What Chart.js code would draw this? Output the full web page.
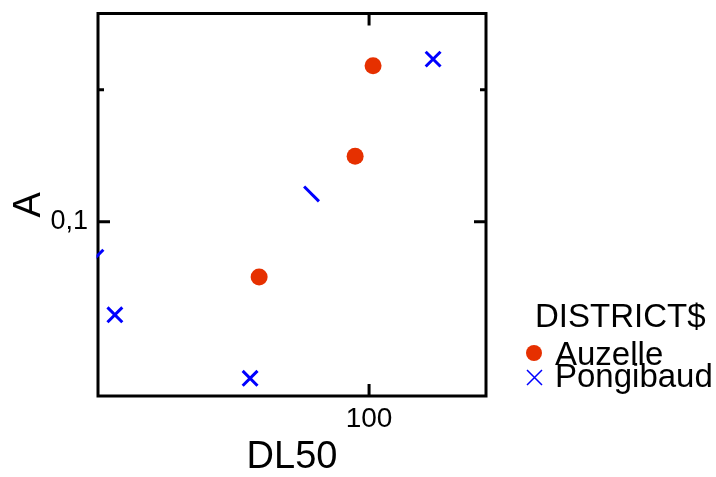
<!DOCTYPE html>
<html>
<head>
<meta charset="utf-8">
<script src="https://cdn.jsdelivr.net/npm/chart.js@4/dist/chart.umd.min.js"></script>
<style>
  body { margin: 0; background: #fff; }
  #wrap { width: 716px; height: 477px; }
</style>
</head>
<body>
<div id="wrap"><canvas id="dataChart"></canvas></div>
<script>
// data (log-log scatter)
const seriesNames = ['Auzelle', 'Pongibaud'];
const auzelleX = [56.4, 93.0, 102.1];
const auzelleY = [0.0748, 0.141, 0.227];
const pongibaudX = [24.1, 26.6, 53.8, 74.1, 139.6];
const pongibaudY = [0.083, 0.0613, 0.0439, 0.1157, 0.235];

const xTicks = [100];
const xTickLabels = ['100'];
const yTicks = [0.1, 0.2];
const yTickLabels = ['0,1', ''];

const xRange = [24.36, 183.9];
const yRange = [0.04, 0.2987];

const legendTitle = 'DISTRICT$';
const colors = ['rgb(230, 48, 0)', 'rgb(0, 0, 255)'];
const FONT = '"Liberation Sans", Arial, sans-serif';

function toPoints(xs, ys) {
    return xs.map((v, i) => ({x: v, y: ys[i]}));
}

// frame with inward ticks on all four sides, and the legend
const framePlugin = {
    id: 'frame',
    beforeDatasetsDraw(chart) {
        const {ctx, chartArea: a, scales: {x, y}} = chart;
        ctx.save();
        ctx.strokeStyle = '#000';
        ctx.lineWidth = 3;
        ctx.strokeRect(a.left, a.top, a.right - a.left, a.bottom - a.top);
        ctx.beginPath();
        xTicks.forEach((v, i) => {
            const px = x.getPixelForValue(v);
            const len = xTickLabels[i] ? 12 : 6;
            ctx.moveTo(px, a.bottom); ctx.lineTo(px, a.bottom - len);
            ctx.moveTo(px, a.top); ctx.lineTo(px, a.top + len);
        });
        yTicks.forEach((v, i) => {
            const py = y.getPixelForValue(v);
            const len = yTickLabels[i] ? 12 : 6;
            ctx.moveTo(a.left, py); ctx.lineTo(a.left + len, py);
            ctx.moveTo(a.right, py); ctx.lineTo(a.right - len, py);
        });
        ctx.stroke();
        ctx.restore();
    },
    afterDraw(chart) {
        const ctx = chart.ctx;
        ctx.save();
        ctx.fillStyle = '#000';
        ctx.font = '33px ' + FONT;
        ctx.textBaseline = 'alphabetic';
        ctx.textAlign = 'left';
        ctx.fillText(legendTitle, 535, 327);
        ctx.fillText(seriesNames[0], 555, 365);
        ctx.fillText(seriesNames[1], 555, 387);
        // markers
        ctx.fillStyle = colors[0];
        ctx.beginPath();
        ctx.arc(534, 353, 8, 0, Math.PI * 2);
        ctx.fill();
        ctx.strokeStyle = colors[1];
        ctx.lineWidth = 1.5;
        ctx.beginPath();
        ctx.moveTo(527, 370); ctx.lineTo(542, 385);
        ctx.moveTo(542, 370); ctx.lineTo(527, 385);
        ctx.stroke();
        ctx.restore();
    }
};

const ctx = document.getElementById('dataChart').getContext('2d');
const chart = new Chart(ctx, {
    type: 'scatter',
    data: {
        datasets: [{
            label: seriesNames[0],
            data: toPoints(auzelleX, auzelleY),
            backgroundColor: colors[0],
            borderColor: colors[0],
            borderWidth: 0,
            pointRadius: 8.5,
            pointStyle: 'circle',
            clip: {left: 1.5, top: 0, right: 0, bottom: 0}
        }, {
            label: seriesNames[1],
            data: toPoints(pongibaudX, pongibaudY),
            backgroundColor: colors[1],
            borderColor: colors[1],
            borderWidth: 3,
            pointRadius: 10.5,
            // two of the crosses only show one stroke in the original
            pointStyle: ['line', 'crossRot', 'crossRot', 'line', 'crossRot'],
            rotation: [-45, 0, 0, 45, 0],
            clip: {left: 1.5, top: 0, right: 0, bottom: 0}
        }]
    },
    options: {
        responsive: true,
        maintainAspectRatio: false,
        animation: false,
        layout: {padding: {top: 10, right: 230, left: 0, bottom: 0}},
        plugins: {
            legend: {display: false},
            tooltip: {enabled: false}
        },
        scales: {
            x: {
                type: 'logarithmic',
                position: 'bottom',
                min: xRange[0],
                max: xRange[1],
                afterBuildTicks: s => { s.ticks = xTicks.map(v => ({value: v})); },
                afterFit: s => { s.height = 81; s.paddingLeft = 0; s.paddingRight = 0; },
                grid: {display: false, drawTicks: false},
                border: {display: false},
                ticks: {
                    padding: 9,
                    color: '#000',
                    font: {family: FONT, size: 28, lineHeight: 1},
                    maxRotation: 0,
                    autoSkip: false,
                    callback: (v, i) => xTickLabels[i]
                },
                title: {
                    display: true,
                    text: 'DL50',
                    color: '#000',
                    font: {family: FONT, size: 38, lineHeight: 1},
                    padding: {top: 0, bottom: 0}
                }
            },
            y: {
                type: 'logarithmic',
                position: 'left',
                min: yRange[0],
                max: yRange[1],
                afterBuildTicks: s => { s.ticks = yTicks.map(v => ({value: v})); },
                afterFit: s => { s.width = 98; s.paddingTop = 0; s.paddingBottom = 0; },
                grid: {display: false, drawTicks: false},
                border: {display: false},
                ticks: {
                    padding: 10,
                    color: '#000',
                    font: {family: FONT, size: 27, lineHeight: 1},
                    autoSkip: false,
                    callback: (v, i) => yTickLabels[i]
                },
                title: {
                    display: true,
                    text: 'A',
                    color: '#000',
                    font: {family: FONT, size: 38, lineHeight: 1},
                    padding: {top: 11, bottom: 0}
                }
            }
        }
    },
    plugins: [framePlugin]
});
</script>
</body>
</html>
